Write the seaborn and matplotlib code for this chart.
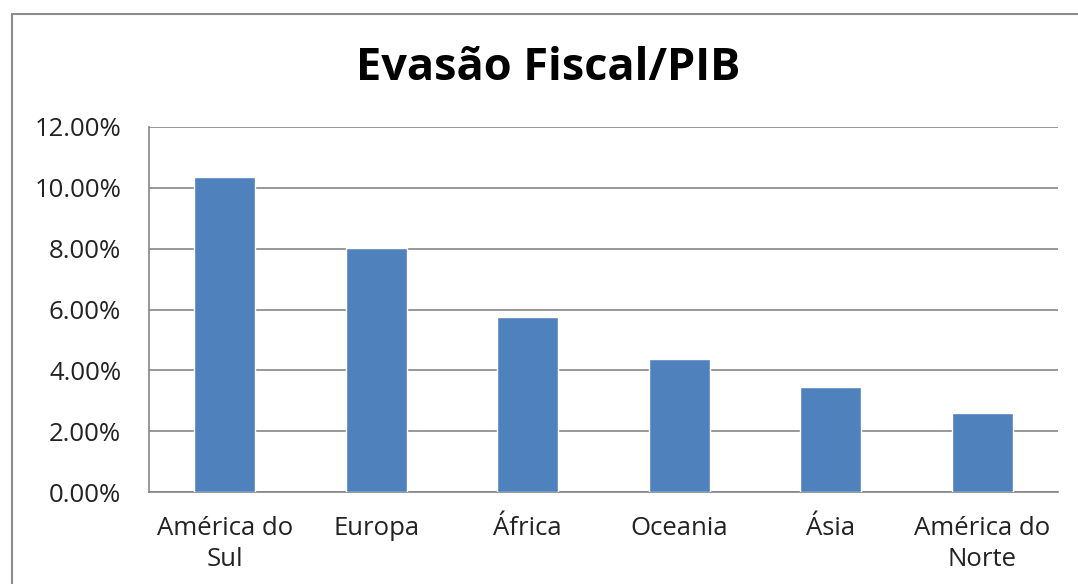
import matplotlib
matplotlib.use("Agg")
import matplotlib.pyplot as plt
import seaborn as sns
import pandas as pd
from matplotlib.lines import Line2D
from matplotlib.ticker import PercentFormatter

# data
regioes = ["América do\nSul", "Europa", "África", "Oceania", "Ásia", "América do\nNorte"]
evasao_pct = [10.35, 8.02, 5.75, 4.37, 3.44, 2.61]
y_ticks = [0, 2, 4, 6, 8, 10, 12]

df = pd.DataFrame({"regiao": regioes, "evasao": evasao_pct})

sns.set_style("white")
plt.rcParams['font.family'] = ['Open Sans', 'DejaVu Sans']

fig = plt.figure(figsize=(10.78, 5.84), dpi=100)
ax = fig.add_axes([149 / 1078, 1 - 492 / 584, (1058 - 149) / 1078, (492 - 127) / 584])

sns.barplot(data=df, x="regiao", y="evasao", color="#4F81BD", width=0.4,
            saturation=1, ax=ax, zorder=3)

ax.set_xlim(-0.5, len(regioes) - 0.5)
ax.set_ylim(0, 12)
ax.set_yticks(y_ticks)
ax.yaxis.set_major_formatter(PercentFormatter(decimals=2))
ax.grid(axis="y", color="#868686", linewidth=1.2, zorder=0)
ax.set_xlabel("")
ax.set_ylabel("")

for s in ["top", "right"]:
    ax.spines[s].set_visible(False)
for s in ["left", "bottom"]:
    ax.spines[s].set_color("#868686")
    ax.spines[s].set_linewidth(1.2)

# category boundary ticks on x, like the spreadsheet chart
ax.set_xticks([i - 0.5 for i in range(len(regioes) + 1)], minor=True)
ax.tick_params(axis="x", which="major", length=0, pad=17, labelsize=18.5, labelcolor="#222222")
ax.tick_params(axis="x", which="minor", length=7, width=1.2, color="#868686", direction="out")
ax.tick_params(axis="y", length=8, width=1.2, color="#868686", direction="out",
               pad=12, labelsize=18.5, labelcolor="#222222")
for lbl in ax.get_xticklabels():
    lbl.set_linespacing(1.32)

fig.text(548 / 1078, 1 - 68 / 584, "Evasão Fiscal/PIB", ha="center", va="center",
         fontsize=32.5, fontweight="bold", color="black")

# outer chart frame (runs off the right and bottom edges)
fig.add_artist(Line2D([12 / 1078, 1.01], [1 - 14 / 584] * 2, color="#8c8c8c", linewidth=1.5))
fig.add_artist(Line2D([12 / 1078] * 2, [-0.01, 1 - 14 / 584], color="#8c8c8c", linewidth=1.5))

fig.savefig("out.png", dpi=100)
